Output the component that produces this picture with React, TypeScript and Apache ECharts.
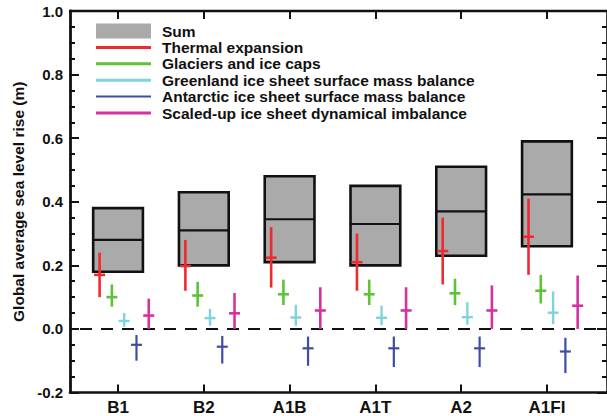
import React, { useEffect, useRef } from 'react';
import * as echarts from 'echarts';

const scenarios = ['B1', 'B2', 'A1B', 'A1T', 'A2', 'A1FI'];
const yTicks = [-0.2, 0.0, 0.2, 0.4, 0.6, 0.8, 1.0];

// Sum (5-95% range and median)
const sumLow = [0.18, 0.20, 0.21, 0.20, 0.23, 0.26];
const sumMid = [0.28, 0.31, 0.345, 0.33, 0.37, 0.423];
const sumHigh = [0.38, 0.43, 0.48, 0.45, 0.51, 0.59];

// Thermal expansion
const thermalLow = [0.10, 0.12, 0.13, 0.12, 0.14, 0.17];
const thermalMid = [0.17, 0.198, 0.224, 0.21, 0.245, 0.29];
const thermalHigh = [0.24, 0.28, 0.32, 0.30, 0.35, 0.41];

// Glaciers and ice caps
const glacierLow = [0.07, 0.07, 0.075, 0.075, 0.075, 0.08];
const glacierMid = [0.10, 0.105, 0.109, 0.109, 0.112, 0.12];
const glacierHigh = [0.14, 0.148, 0.155, 0.155, 0.158, 0.17];

// Greenland ice sheet surface mass balance
const greenlandLow = [0.007, 0.01, 0.01, 0.012, 0.013, 0.015];
const greenlandMid = [0.025, 0.034, 0.036, 0.035, 0.037, 0.051];
const greenlandHigh = [0.05, 0.063, 0.076, 0.073, 0.084, 0.118];

// Antarctic ice sheet surface mass balance
const antarcticLow = [-0.10, -0.109, -0.116, -0.12, -0.12, -0.139];
const antarcticMid = [-0.05, -0.056, -0.061, -0.061, -0.061, -0.071];
const antarcticHigh = [-0.019, -0.022, -0.024, -0.024, -0.024, -0.028];

// Scaled-up ice sheet dynamical imbalance
const dynamicLow = [0.0, 0.0, 0.0, 0.0, 0.0, 0.0];
const dynamicMid = [0.042, 0.049, 0.058, 0.058, 0.058, 0.073];
const dynamicHigh = [0.095, 0.113, 0.131, 0.131, 0.137, 0.168];

const FONT = '"Liberation Sans", Arial, Helvetica, sans-serif';
const INK = '#111111';
const BOX_FILL = '#aaaaaa';

const components = [
  { name: 'Thermal expansion', color: '#ee2a30', width: 2.6, offset: -0.215, low: thermalLow, mid: thermalMid, high: thermalHigh, icon: 'path://M0,0H55V3H0Z' },
  { name: 'Glaciers and ice caps', color: '#5fc236', width: 2.6, offset: -0.072, low: glacierLow, mid: glacierMid, high: glacierHigh, icon: 'path://M0,0H55V3H0Z' },
  { name: 'Greenland ice sheet surface mass balance', color: '#7ed4dc', width: 2.4, offset: 0.072, low: greenlandLow, mid: greenlandMid, high: greenlandHigh, icon: 'path://M0,0H55V3H0Z' },
  { name: 'Antarctic ice sheet surface mass balance', color: '#3d4ca6', width: 2.2, offset: 0.215, low: antarcticLow, mid: antarcticMid, high: antarcticHigh, icon: 'path://M0,0H55V2H0Z' },
  { name: 'Scaled-up ice sheet dynamical imbalance', color: '#d4339f', width: 2.6, offset: 0.358, low: dynamicLow, mid: dynamicMid, high: dynamicHigh, icon: 'path://M0,0H55V3H0Z' },
];

const X_MIN = 0.44;
const X_MAX = 6.7;
const catValues = scenarios.map((_, i) => i + 1);

export default function App() {
  const ref = useRef<HTMLDivElement>(null);

  useEffect(() => {
    if (!ref.current) return;
    const chart = echarts.init(ref.current, null, { renderer: 'svg' });

    const boxSeries = {
      type: 'custom',
      name: 'Sum',
      itemStyle: { color: BOX_FILL },
      encode: { x: 0, y: [1, 2, 3] },
      data: scenarios.map((_, i) => [i + 1, sumLow[i], sumMid[i], sumHigh[i]]),
      z: 2,
      renderItem: (params: any, api: any) => {
        const x = api.value(0);
        const tl = api.coord([x - 0.29, api.value(3)]);
        const br = api.coord([x + 0.29, api.value(1)]);
        const m = api.coord([x, api.value(2)]);
        return {
          type: 'group',
          children: [
            {
              type: 'rect',
              shape: { x: tl[0], y: tl[1], width: br[0] - tl[0], height: br[1] - tl[1] },
              style: { fill: BOX_FILL, stroke: INK, lineWidth: 2.6 },
            },
            {
              type: 'line',
              shape: { x1: tl[0], y1: m[1], x2: br[0], y2: m[1] },
              style: { stroke: INK, lineWidth: 2.2 },
            },
          ],
        };
      },
    };

    const barSeries = components.map((c) => ({
      type: 'custom',
      name: c.name,
      itemStyle: { color: c.color },
      encode: { x: 0, y: [1, 2, 3] },
      z: 4,
      data: scenarios.map((_, i) => [i + 1, c.low[i], c.mid[i], c.high[i]]),
      renderItem: (params: any, api: any) => {
        const x = api.value(0) + c.offset;
        const lo = api.coord([x, api.value(1)]);
        const md = api.coord([x, api.value(2)]);
        const hi = api.coord([x, api.value(3)]);
        return {
          type: 'group',
          children: [
            {
              type: 'line',
              shape: { x1: lo[0], y1: lo[1], x2: hi[0], y2: hi[1] },
              style: { stroke: c.color, lineWidth: c.width },
            },
            {
              type: 'line',
              shape: { x1: md[0] - 5.5, y1: md[1], x2: md[0] + 5.5, y2: md[1] },
              style: { stroke: c.color, lineWidth: c.width },
            },
          ],
        };
      },
    }));

    const zeroLine = {
      type: 'line',
      name: 'zero',
      data: [[X_MIN, 0], [X_MAX, 0]],
      symbol: 'none',
      silent: true,
      z: 3,
      lineStyle: { color: INK, width: 2, type: [12, 9], dashOffset: -10 },
    };

    const tickStyle = { color: INK, width: 2 };
    const labelStyle = { fontFamily: FONT, fontWeight: 'bold' as const, color: INK };

    chart.setOption({
      animation: false,
      backgroundColor: '#ffffff',
      grid: { left: 70, right: -3, top: 11, bottom: 23.5, containLabel: false },
      legend: {
        orient: 'vertical',
        left: 96,
        top: 23,
        padding: 0,
        itemWidth: 55,
        itemHeight: 15,
        itemGap: 0.4,
        selectedMode: false,
        textStyle: { ...labelStyle, fontSize: 15.5, padding: [0, 0, 0, 6] },
        data: [
          { name: 'Sum', icon: 'rect', itemStyle: { borderWidth: 0, color: BOX_FILL } },
          ...components.map((c) => ({ name: c.name, icon: c.icon })),
        ],
      },
      xAxis: [
        {
          type: 'value',
          position: 'bottom',
          min: X_MIN,
          max: X_MAX,
          axisLine: { show: true, onZero: false, lineStyle: { color: INK, width: 2.6 } },
          axisTick: { show: true, inside: true, length: 8, lineStyle: tickStyle, customValues: catValues },
          axisLabel: {
            show: true,
            customValues: catValues,
            formatter: (v: number) => scenarios[Math.round(v) - 1] ?? '',
            ...labelStyle,
            fontSize: 17,
            margin: 6,
          },
          splitLine: { show: false },
        },
        {
          type: 'value',
          position: 'top',
          min: X_MIN,
          max: X_MAX,
          axisLine: { show: true, onZero: false, lineStyle: { color: INK, width: 2.4 } },
          axisTick: { show: true, inside: true, length: 8, lineStyle: tickStyle, customValues: catValues },
          axisLabel: { show: false },
          splitLine: { show: false },
        },
      ],
      yAxis: [
        {
          type: 'value',
          position: 'left',
          min: yTicks[0],
          max: yTicks[yTicks.length - 1],
          interval: 0.2,
          axisLine: { show: true, onZero: false, lineStyle: { color: INK, width: 2.8 } },
          axisTick: { show: true, inside: true, length: 9, lineStyle: tickStyle },
          minorTick: { show: true, splitNumber: 4, length: 5, lineStyle: tickStyle },
          axisLabel: {
            formatter: (v: number) => v.toFixed(1),
            ...labelStyle,
            fontSize: 15,
            margin: 7,
          },
          splitLine: { show: false },
          minorSplitLine: { show: false },
          name: 'Global average sea level rise (m)',
          nameLocation: 'middle',
          nameGap: 44,
          nameTextStyle: { ...labelStyle, fontSize: 15.5 },
        },
        {
          type: 'value',
          position: 'right',
          min: yTicks[0],
          max: yTicks[yTicks.length - 1],
          interval: 0.2,
          axisLine: { show: true, onZero: false, lineStyle: { color: INK, width: 2.6 } },
          axisTick: { show: true, inside: true, length: 10, lineStyle: tickStyle },
          minorTick: { show: true, splitNumber: 4, length: 5, lineStyle: tickStyle },
          axisLabel: { show: false },
          splitLine: { show: false },
          minorSplitLine: { show: false },
        },
      ],
      series: [boxSeries, zeroLine, ...barSeries],
    });

    return () => chart.dispose();
  }, []);

  return (
    <div
      ref={ref}
      style={{ position: 'fixed', left: 0, top: 0, width: 607, height: 416, background: '#fff' }}
    />
  );
}
